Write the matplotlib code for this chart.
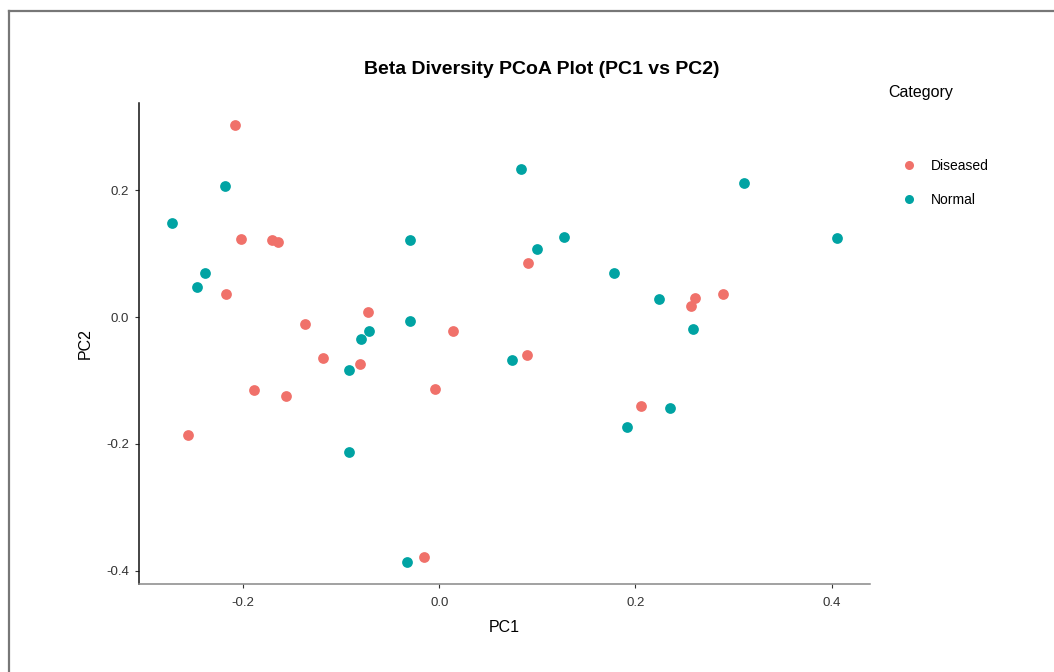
import matplotlib

matplotlib.use("Agg")

import matplotlib.pyplot as plt  # noqa: E402
from matplotlib.lines import Line2D  # noqa: E402

# ── Data ──────────────────────────────────────────────────────────────────────
diseased_pc1 = [-0.2085, -0.2023, -0.1701, -0.1640, -0.2170, -0.0728, -0.1370,
                0.0136, -0.1187, -0.0803, -0.1891, -0.1561, -0.0044, -0.2558,
                -0.0160, 0.0908, 0.2602, 0.2564, 0.2888, 0.0895, 0.2054]
diseased_pc2 = [0.3033, 0.1232, 0.1221, 0.1179, 0.0363, 0.0079, -0.0101,
                -0.0212, -0.0643, -0.0733, -0.1148, -0.1242, -0.1128, -0.1855,
                -0.3787, 0.0863, 0.0305, 0.0174, 0.0373, -0.0600, -0.1406]

normal_pc1 = [-0.2184, -0.2721, -0.0296, -0.2391, -0.2469, -0.0296, -0.0721,
              -0.0799, -0.0921, -0.0918, -0.0330, 0.0834, 0.3102, 0.1276,
              0.1000, 0.4054, 0.1783, 0.2235, 0.2585, 0.0742, 0.2347, 0.1918]
normal_pc2 = [0.2074, 0.1485, 0.1221, 0.0695, 0.0483, -0.0058, -0.0212,
              -0.0343, -0.0837, -0.2123, -0.3866, 0.2338, 0.2117, 0.1273,
              0.1084, 0.1242, 0.0705, 0.0289, -0.0190, -0.0679, -0.1428, -0.1738]

categories = ["Diseased", "Normal"]
x_ticks = [-0.2, 0.0, 0.2, 0.4]
y_ticks = [-0.4, -0.2, 0.0, 0.2]

RED = "#F0716A"
TEAL = "#00A3A3"
TICK = "#333333"
W, H = 1054, 672

plt.rcParams["font.family"] = ["Liberation Sans", "DejaVu Sans"]

fig = plt.figure(figsize=(W / 100, H / 100), dpi=100)
ax = fig.add_axes([139 / W, 1 - 584 / H, (870 - 139) / W, (584 - 103) / H])

ax.scatter(diseased_pc1, diseased_pc2, s=60, color=RED, linewidths=0, zorder=3)
ax.scatter(normal_pc1, normal_pc2, s=60, color=TEAL, linewidths=0, zorder=3)

ax.set_xlim(-0.306, 0.439)
ax.set_ylim(-0.421, 0.338)
ax.set_xticks(x_ticks)
ax.set_xticklabels([f"{v:.1f}" for v in x_ticks])
ax.set_yticks(y_ticks)
ax.set_yticklabels([f"{v:.1f}" for v in y_ticks])
ax.tick_params(length=3, width=0.8, colors=TICK, labelsize=9.5)
ax.tick_params(axis="x", pad=6)
ax.tick_params(axis="y", pad=4)
for sp in ("top", "right"):
    ax.spines[sp].set_visible(False)
ax.spines["left"].set_color("#111111")
ax.spines["bottom"].set_color("#888888")
ax.spines["left"].set_linewidth(1.1)
ax.spines["bottom"].set_linewidth(1.1)

ax.set_xlabel("PC1", fontsize=11.5, labelpad=8)
ax.set_ylabel("PC2", fontsize=11.5, labelpad=10)

fig.text(542 / W, 1 - 70 / H, "Beta Diversity PCoA Plot (PC1 vs PC2)",
         ha="center", va="center", fontsize=14, fontweight="bold")

# legend
fig.text(888 / W, 1 - 92 / H, "Category", ha="left", va="center", fontsize=11.5)
handles = [Line2D([], [], ls="", marker="o", ms=6.5, mec="none", color=c)
           for c in (RED, TEAL)]
fig.legend(handles, categories, loc="upper left",
           bbox_to_anchor=(902 / W, 1 - 159 / H), frameon=False, fontsize=10,
           handlelength=1.0, handletextpad=1.1, labelspacing=1.45,
           borderpad=0, borderaxespad=0)

# outer frame (left and top edges)
fig.add_artist(Line2D([8.5 / W, 8.5 / W], [0, 1 - 10.5 / H], color="#777777",
                      lw=1.6, transform=fig.transFigure))
fig.add_artist(Line2D([8.5 / W, 1], [1 - 10.5 / H, 1 - 10.5 / H], color="#777777",
                      lw=1.6, transform=fig.transFigure))

fig.savefig("out.png", dpi=100)
